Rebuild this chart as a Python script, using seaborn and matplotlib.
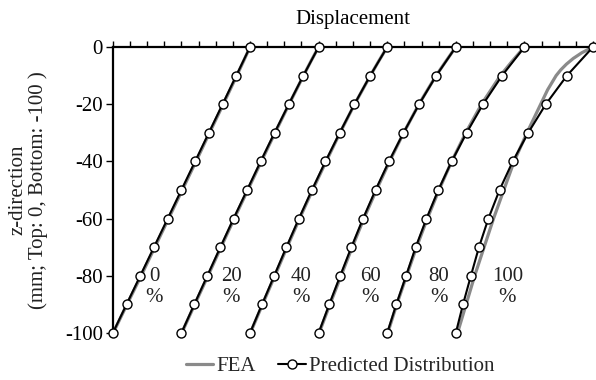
import matplotlib
matplotlib.use("Agg")
import matplotlib.pyplot as plt
import pandas as pd
import seaborn as sns
from matplotlib.lines import Line2D

# ---- data ----
z_pred = [0, -10, -20, -30, -40, -50, -60, -70, -80, -90, -100]
pred_0 = [8.0, 7.2, 6.4, 5.6, 4.8, 4.0, 3.2, 2.4, 1.6, 0.8, 0.0]
pred_20 = [12.0, 11.11, 10.26, 9.43, 8.62, 7.83, 7.04, 6.27, 5.51, 4.75, 4.0]
pred_40 = [16.0, 15.01, 14.09, 13.23, 12.40, 11.61, 10.85, 10.12, 9.41, 8.70, 8.0]
pred_60 = [20.0, 18.86, 17.86, 16.95, 16.10, 15.32, 14.59, 13.91, 13.26, 12.62, 12.0]
pred_80 = [24.0, 22.70, 21.59, 20.63, 19.76, 18.98, 18.29, 17.66, 17.10, 16.53, 16.0]
pred_100 = [28.0, 26.48, 25.25, 24.22, 23.32, 22.55, 21.90, 21.35, 20.88, 20.42, 20.0]

z_fea = [0, -5, -10, -20, -30, -40, -50, -60, -70, -80, -90, -100]
fea_0 = [8.0, 7.62, 7.23, 6.44, 5.64, 4.85, 4.05, 3.25, 2.45, 1.65, 0.83, 0.02]
fea_20 = [12.0, 11.55, 11.12, 10.28, 9.46, 8.66, 7.87, 7.08, 6.31, 5.55, 4.78, 4.02]
fea_40 = [16.0, 15.50, 15.02, 14.10, 13.25, 12.44, 11.65, 10.89, 10.16, 9.45, 8.73, 8.02]
fea_60 = [20.0, 19.42, 18.85, 17.85, 16.96, 16.14, 15.37, 14.64, 13.96, 13.31, 12.66, 12.03]
fea_80 = [24.0, 23.28, 22.60, 21.50, 20.58, 19.76, 19.02, 18.34, 17.71, 17.13, 16.56, 16.03]

z_fea_100 = [0, -2, -4, -6, -8, -10, -15, -20, -30, -40, -50, -60, -70, -80, -90, -100]
fea_100 = [28.0, 27.35, 26.85, 26.45, 26.12, 25.85, 25.35, 24.95, 24.15, 23.40,
           22.80, 22.20, 21.65, 21.10, 20.60, 20.10]

pct_labels = ["0", "20", "40", "60", "80", "100"]
label_x = [2.4, 6.9, 11.0, 15.0, 19.0, 23.0]
y_ticks = [0, -20, -40, -60, -80, -100]
y_tick_labels = ["0", "-20", "-40", "-60", "-80", "-100"]

pred_all = [pred_0, pred_20, pred_40, pred_60, pred_80, pred_100]
fea_all = [fea_0, fea_20, fea_40, fea_60, fea_80, fea_100]
fea_z_all = [z_fea, z_fea, z_fea, z_fea, z_fea, z_fea_100]

pred_df = pd.concat(
    [pd.DataFrame({"x": xs, "z": z_pred, "case": lab}) for xs, lab in zip(pred_all, pct_labels)],
    ignore_index=True)
fea_df = pd.concat(
    [pd.DataFrame({"x": xs, "z": zs, "case": lab})
     for xs, zs, lab in zip(fea_all, fea_z_all, pct_labels)],
    ignore_index=True)

# ---- style ----
sns.set_theme(style="white")
plt.rcParams["font.family"] = ["Liberation Serif", "DejaVu Serif"]
plt.rcParams["axes.unicode_minus"] = False
FS = 15

W, H = 596, 380
fig = plt.figure(figsize=(W / 100, H / 100), dpi=100)
left, right, top, bottom = 112.8, 593.0, 47.0, 333.0
ax = fig.add_axes([left / W, 1 - bottom / H, (right - left) / W, (bottom - top) / H])

gray = "#8a8a8a"
for lab in pct_labels:
    sub = fea_df[fea_df["case"] == lab]
    sns.lineplot(data=sub, x="x", y="z", sort=False, estimator=None, ax=ax,
                 color=gray, linewidth=2.3, legend=False, clip_on=False, zorder=2)
for lab in pct_labels:
    sub = pred_df[pred_df["case"] == lab]
    sns.lineplot(data=sub, x="x", y="z", sort=False, estimator=None, ax=ax,
                 color="black", linewidth=1.5, marker="o", markersize=6.5,
                 markerfacecolor="white", markeredgecolor="black", markeredgewidth=1.0,
                 legend=False, clip_on=False, zorder=3)

for lx, lab in zip(label_x, pct_labels):
    ax.text(lx, -84, f"{lab}\n%", ha="center", va="center", fontsize=FS,
            color="#222222", linespacing=1.15, multialignment="center", zorder=4)

ax.set_xlim(0, 28)
ax.set_ylim(-100, 0)
ax.xaxis.tick_top()
ax.xaxis.set_label_position("top")
ax.set_xticks(list(range(0, 29)))
ax.set_xticklabels([])
ax.set_yticks(y_ticks)
ax.set_yticklabels(y_tick_labels, fontsize=FS)
ax.tick_params(axis="x", which="both", direction="out", length=4, width=1.0,
               color="black", top=True, bottom=False)
ax.tick_params(axis="y", direction="out", length=5, width=1.0, color="black",
               pad=2, left=True, labelcolor="black")
ax.set_xlabel("Displacement", fontsize=FS, labelpad=9, color="black")
ax.set_ylabel("z-direction\n(mm; Top: 0, Bottom: -100 )", fontsize=FS,
              labelpad=12, color="#222222", linespacing=1.05)

for side in ["bottom", "right"]:
    ax.spines[side].set_visible(False)
for side in ["left", "top"]:
    ax.spines[side].set_color("black")
    ax.spines[side].set_linewidth(1.6)
ax.grid(False)

handles = [
    Line2D([], [], color=gray, linewidth=2.3),
    Line2D([], [], color="black", linewidth=1.5, marker="o", markersize=6.5,
           markerfacecolor="white", markeredgecolor="black", markeredgewidth=1.0),
]
fig.legend(handles, ["FEA", "Predicted Distribution"], loc="center",
           bbox_to_anchor=(340 / W, 1 - 366 / H), ncol=2, frameon=False,
           fontsize=FS, handlelength=1.3, handletextpad=0.15, columnspacing=1.1)

fig.savefig("out.png", dpi=100)
